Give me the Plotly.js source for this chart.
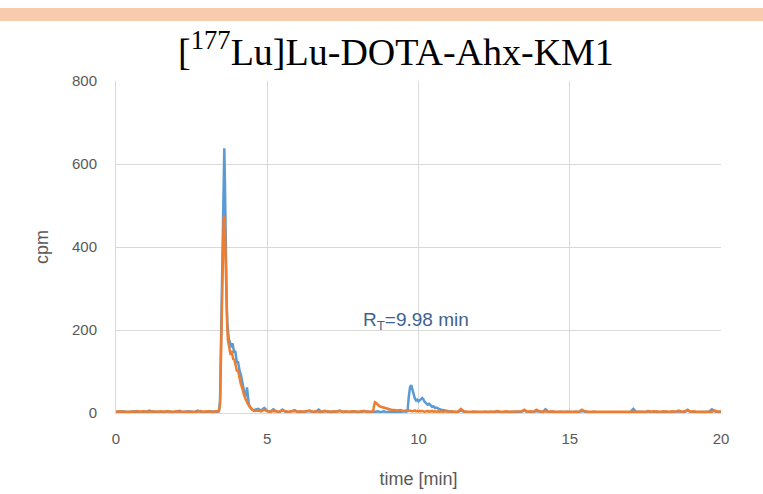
<!DOCTYPE html>
<html>
<head>
<meta charset="utf-8">
<script src="https://cdn.plot.ly/plotly-3.0.1.min.js"></script>
<style>
  html, body { margin: 0; padding: 0; background: #ffffff; }
  #chart { width: 763px; height: 494px; }
</style>
</head>
<body>
<div id="chart"></div>
<script>
// Radio-HPLC trace of [177Lu]Lu-DOTA-Ahx-KM1: activity (cpm) against retention time (min)

const timeMin = [
  0.0, 0.1, 0.2, 0.3, 0.4, 0.5, 0.6, 0.7, 0.8, 0.9,
  1.0, 1.1, 1.2, 1.3, 1.4, 1.5, 1.6, 1.7, 1.8, 1.9,
  2.0, 2.1, 2.2, 2.3, 2.4, 2.5, 2.6, 2.7, 2.8, 2.9,
  3.0, 3.1, 3.2, 3.3, 3.4,
  3.44, 3.48, 3.52, 3.56, 3.58, 3.60, 3.62, 3.64, 3.66, 3.68,
  3.70, 3.73, 3.76, 3.79, 3.82, 3.85, 3.88, 3.91, 3.94, 3.97,
  4.00, 4.03, 4.06, 4.09, 4.12, 4.15, 4.18, 4.21, 4.24, 4.27,
  4.30, 4.33, 4.36, 4.39, 4.42, 4.45, 4.48, 4.51, 4.55,
  4.6, 4.7, 4.8, 4.9, 5.0, 5.1, 5.2, 5.3, 5.4, 5.5,
  5.6, 5.7, 5.8, 5.9, 6.0, 6.1, 6.2, 6.3, 6.4, 6.5,
  6.6, 6.7, 6.8, 6.9, 7.0, 7.1, 7.2, 7.3, 7.4, 7.5,
  7.6, 7.7, 7.8, 7.9, 8.0, 8.1, 8.2, 8.3, 8.4, 8.5,
  8.53, 8.56, 8.60, 8.65, 8.70, 8.75, 8.80, 8.85, 8.90, 8.95, 9.00,
  9.1, 9.2, 9.3, 9.4, 9.5, 9.6,
  9.64, 9.68, 9.72, 9.76, 9.80, 9.84, 9.88, 9.92, 9.96, 10.00,
  10.04, 10.08, 10.12, 10.16, 10.20, 10.25, 10.30, 10.35, 10.40, 10.45,
  10.50, 10.55, 10.60, 10.65, 10.70, 10.75, 10.80, 10.90, 11.00,
  11.1, 11.2, 11.3, 11.4, 11.5, 11.6, 11.7, 11.8, 11.9, 12.0,
  12.1, 12.2, 12.3, 12.4, 12.5, 12.6, 12.7, 12.8, 12.9, 13.0,
  13.1, 13.2, 13.3, 13.4, 13.5, 13.6, 13.7, 13.8, 13.9, 14.0,
  14.1, 14.2, 14.3, 14.4, 14.5, 14.6, 14.7, 14.8, 14.9, 15.0,
  15.1, 15.2, 15.3, 15.4, 15.5, 15.6, 15.7, 15.8, 15.9, 16.0,
  16.1, 16.2, 16.3, 16.4, 16.5, 16.6, 16.7, 16.8, 16.9, 17.0,
  17.1, 17.2, 17.3, 17.4, 17.5, 17.6, 17.7, 17.8, 17.9, 18.0,
  18.1, 18.2, 18.3, 18.4, 18.5, 18.6, 18.7, 18.8, 18.9, 19.0,
  19.1, 19.2, 19.3, 19.4, 19.5, 19.6, 19.7, 19.8, 19.9, 20.0
];

// first run (blue)
const cpmRun1 = [
  3, 2, 4, 3, 2, 3, 4, 2, 3, 3,
  2, 6, 3, 2, 3, 3, 2, 4, 3, 2,
  3, 5, 2, 3, 4, 3, 2, 6, 3, 2,
  3, 4, 3, 2, 4,
  30, 210, 430, 590, 638, 560, 430, 330, 260, 215,
  190, 178, 172, 165, 158, 168, 150, 145, 150, 135,
  120, 125, 110, 100, 95, 80, 70, 62, 50, 45,
  40, 62, 30, 22, 16, 12, 10, 8, 6,
  8, 10, 6, 12, 5, 3, 9, 4, 2, 8,
  3, 2, 4, 7, 3, 2, 3, 4, 5, 2,
  3, 8, 2, 5, 3, 3, 2, 4, 6, 2,
  3, 2, 3, 4, 2, 2, 5, 3, 2, 3,
  3, 2, 3, 4, 3, 2, 3, 4, 3, 2, 3,
  3, 4, 3, 2, 4, 3,
  6, 40, 62, 67, 55, 42, 35, 30, 32, 28,
  30, 34, 36, 33, 27, 24, 20, 22, 18, 15,
  16, 12, 13, 10, 9, 8, 7, 5, 4,
  3, 2, 2, 6, 3, 2, 1, 3, 2, 2,
  2, 3, 2, 3, 2, 4, 2, 2, 3, 2,
  2, 3, 2, 3, 6, 2, 3, 2, 5, 3,
  2, 9, 2, 3, 2, 2, 3, 2, 3, 2,
  2, 3, 2, 5, 3, 2, 2, 3, 2, 2,
  3, 2, 2, 3, 2, 3, 2, 2, 3, 2,
  10, 2, 3, 2, 2, 4, 2, 3, 2, 2,
  3, 2, 2, 3, 2, 4, 2, 3, 6, 2,
  3, 2, 2, 3, 2, 3, 9, 4, 2, 3
];

// second run (orange)
const cpmRun2 = [
  3, 4, 3, 3, 4, 3, 3, 5, 3, 4,
  3, 3, 4, 3, 3, 4, 3, 5, 3, 3,
  4, 3, 3, 4, 3, 3, 4, 3, 5, 3,
  4, 3, 3, 4, 4,
  20, 180, 380, 470, 475, 450, 380, 300, 240, 200,
  175, 165, 155, 140, 150, 135, 128, 130, 120, 110,
  100, 105, 90, 80, 72, 65, 55, 48, 42, 36,
  30, 25, 22, 18, 14, 12, 10, 8, 6,
  5, 6, 4, 8, 4, 3, 5, 4, 3, 6,
  4, 3, 4, 5, 3, 4, 3, 4, 6, 3,
  4, 3, 3, 5, 4, 3, 4, 3, 5, 3,
  4, 3, 4, 3, 3, 4, 5, 3, 4, 4,
  18, 26, 24, 20, 17, 15, 14, 12, 11, 10, 9,
  8, 7, 6, 7, 5, 6,
  5, 5, 6, 5, 4, 5, 6, 4, 5, 4,
  5, 4, 5, 4, 3, 4, 5, 3, 4, 5,
  3, 4, 3, 4, 3, 4, 3, 4, 3,
  4, 3, 3, 10, 4, 3, 3, 4, 3, 3,
  4, 3, 3, 4, 3, 5, 3, 3, 4, 3,
  3, 4, 3, 4, 8, 3, 4, 3, 8, 4,
  3, 4, 3, 4, 3, 3, 4, 3, 4, 3,
  3, 4, 3, 8, 4, 3, 3, 4, 3, 3,
  4, 3, 3, 4, 3, 4, 3, 3, 4, 3,
  4, 3, 4, 3, 3, 5, 3, 4, 3, 3,
  4, 3, 3, 4, 3, 6, 3, 4, 8, 3,
  4, 3, 3, 4, 3, 4, 3, 6, 3, 4
];

const xTicks = [0, 5, 10, 15, 20];
const yTicks = [0, 200, 400, 600, 800];
const peakLabel = { time: 9.92, cpm: 222, text: 'R<sub>T</sub>=9.98 min' };

const gray = '#595959';
const gridColor = '#D9D9D9';
const sansFamily = 'Liberation Sans, Arial, sans-serif';
const tickFont = { family: sansFamily, size: 15, color: gray };

const traces = [
  { x: timeMin, y: cpmRun1, type: 'scatter', mode: 'lines', name: 'run 1',
    line: { color: '#5B9BD5', width: 2.5 }, hoverinfo: 'x+y' },
  { x: timeMin, y: cpmRun2, type: 'scatter', mode: 'lines', name: 'run 2',
    line: { color: '#ED7D31', width: 2.5 }, hoverinfo: 'x+y' }
];

const layout = {
  width: 763, height: 494,
  margin: { l: 116, r: 42, t: 81, b: 81, pad: 0 },
  paper_bgcolor: '#ffffff', plot_bgcolor: '#ffffff',
  showlegend: false,
  title: {
    text: '[<sup>177</sup>Lu]Lu-DOTA-Ahx-KM1',
    font: { family: 'Liberation Serif, Times New Roman, serif', size: 38, color: '#000000' },
    x: 396 / 763, xref: 'container', xanchor: 'center',
    y: 1 - 52 / 494, yref: 'container', yanchor: 'middle'
  },
  xaxis: {
    range: [0, 20], tickvals: xTicks, ticktext: xTicks.map(String),
    showgrid: true, gridcolor: gridColor, gridwidth: 1,
    showline: true, linecolor: gridColor, linewidth: 1,
    zeroline: false, ticks: '', ticklabelstandoff: 12,
    tickfont: tickFont, fixedrange: true,
    title: { text: 'time [min]', font: { family: sansFamily, size: 18, color: gray }, standoff: 26 }
  },
  yaxis: {
    range: [0, 800], tickvals: yTicks, ticktext: yTicks.map(String),
    showgrid: true, gridcolor: gridColor, gridwidth: 1,
    showline: true, linecolor: gridColor, linewidth: 1,
    zeroline: false, ticks: '', ticklabelstandoff: 15,
    tickfont: tickFont, fixedrange: true,
    title: { text: 'cpm', font: { family: sansFamily, size: 18, color: gray }, standoff: 18 }
  },
  shapes: [
    { type: 'rect', xref: 'paper', yref: 'paper',
      x0: -0.2, x1: 1.1, y0: (413 - 21) / 332, y1: (413 - 8) / 332,
      fillcolor: '#F8CBAD', line: { width: 0 }, layer: 'below' }
  ],
  annotations: [
    { x: peakLabel.time, y: peakLabel.cpm, xref: 'x', yref: 'y',
      text: peakLabel.text, showarrow: false, xanchor: 'center', yanchor: 'middle',
      font: { family: sansFamily, size: 19, color: '#41628F' } }
  ]
};

Plotly.newPlot('chart', traces, layout, { displayModeBar: false, staticPlot: true });
</script>
</body>
</html>
